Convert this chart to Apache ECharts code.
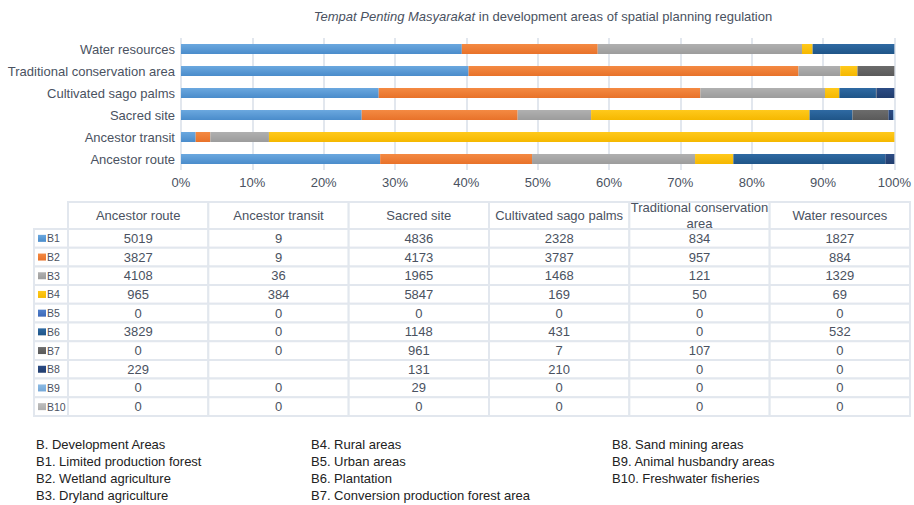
<!DOCTYPE html>
<html>
<head>
<meta charset="utf-8">
<script src="https://cdn.jsdelivr.net/npm/echarts@6/dist/echarts.min.js"></script>
<style>
html,body{margin:0;padding:0;background:#fff;}
#chart{width:914px;height:505px;}
</style>
</head>
<body>
<div id="chart"></div>
<script>
// Categories (bottom to top on the chart; left to right in the table)
const categories = ['Ancestor route','Ancestor transit','Sacred site','Cultivated sago palms','Traditional conservation area','Water resources'];
const tableHeaders = ['Ancestor route','Ancestor transit','Sacred site','Cultivated sago palms','Traditional conservation\narea','Water resources'];
const seriesNames = ['B1','B2','B3','B4','B5','B6','B7','B8','B9','B10'];
// values per development area, in category order
const B1  = [5019, 9, 4836, 2328, 834, 1827];
const B2  = [3827, 9, 4173, 3787, 957, 884];
const B3  = [4108, 36, 1965, 1468, 121, 1329];
const B4  = [965, 384, 5847, 169, 50, 69];
const B5  = [0, 0, 0, 0, 0, 0];
const B6  = [3829, 0, 1148, 431, 0, 532];
const B7  = [0, 0, 961, 7, 107, 0];
const B8  = [229, null, 131, 210, 0, 0];
const B9  = [0, 0, 29, 0, 0, 0];
const B10 = [0, 0, 0, 0, 0, 0];
const seriesValues = [B1,B2,B3,B4,B5,B6,B7,B8,B9,B10];
const tickLabels = ['0%','10%','20%','30%','40%','50%','60%','70%','80%','90%','100%'];
const notes = [
  ['B. Development Areas','B1. Limited production forest','B2. Wetland agriculture','B3. Dryland agriculture'],
  ['B4. Rural areas','B5. Urban areas','B6. Plantation','B7. Conversion production forest area'],
  ['B8. Sand mining areas','B9. Animal husbandry areas','B10. Freshwater fisheries']
];

const colorsTop = ['#6ba8df','#f48a43','#b0b0b0','#ffc91c','#5080cc','#2f6aa3','#6c6c6c','#2c4c85','#8dbbe4','#bdbdbd'];
const colorsBot = ['#4a8ccb','#e8722a','#9c9c9c','#f5b800','#3d68b8','#1f5588','#5a5a5a','#213d6e','#75a8d8','#adadad'];

const totals = categories.map((c,i)=>seriesValues.reduce((s,arr)=>s+(arr[i]||0),0));

const chart = echarts.init(document.getElementById('chart'), null, {renderer:'svg'});

const textColor = '#4a5261';
const lineColor = '#e2e7ee';
const font = '"Liberation Sans", Arial, Helvetica, sans-serif';

const series = seriesNames.map((name,k)=>({
  name: name,
  type: 'bar',
  stack: 'total',
  barWidth: 10,
  itemStyle: {
    color: new echarts.graphic.LinearGradient(0,0,0,1,[{offset:0,color:colorsTop[k]},{offset:1,color:colorsBot[k]}])
  },
  emphasis: {disabled:true},
  data: seriesValues[k].map((v,i)=> (v||0) / totals[i] * 100)
}));

// Table graphics
const graphics = [];
const tLeft = 34, firstColW = 34, colLeft = 68, tRight = 910;
const colW = (tRight - colLeft) / tableHeaders.length;
const headTop = 202, headH = 27, rowH = 18.7;
const border = {stroke: lineColor, lineWidth: 2, fill: '#fff'};
// header cells
tableHeaders.forEach((h,j)=>{
  graphics.push({type:'rect', shape:{x:colLeft+j*colW, y:headTop, width:colW, height:headH}, style:border, z:1});
  graphics.push({type:'text', x:colLeft+j*colW+colW/2, y:headTop+headH/2, z:2,
    style:{text:h, fill:textColor, font:'13px '+font, textAlign:'center', textVerticalAlign:'middle', lineHeight: 16}});
});
// rows
seriesNames.forEach((name,k)=>{
  const y = headTop + headH + k*rowH;
  graphics.push({type:'rect', shape:{x:tLeft, y:y, width:firstColW, height:rowH}, style:border, z:1});
  graphics.push({type:'rect', shape:{x:tLeft+4, y:y+rowH/2-3.5, width:8, height:7},
    style:{fill: new echarts.graphic.LinearGradient(0,0,0,1,[{offset:0,color:colorsTop[k]},{offset:1,color:colorsBot[k]}])}, z:2});
  graphics.push({type:'text', x:tLeft+13, y:y+rowH/2, z:2,
    style:{text:name, fill:textColor, font:'10.5px '+font, textAlign:'left', textVerticalAlign:'middle'}});
  seriesValues[k].forEach((v,j)=>{
    graphics.push({type:'rect', shape:{x:colLeft+j*colW, y:y, width:colW, height:rowH}, style:border, z:1});
    if (v !== null) {
      graphics.push({type:'text', x:colLeft+j*colW+colW/2, y:y+rowH/2, z:2,
        style:{text:String(v), fill:textColor, font:'13px '+font, textAlign:'center', textVerticalAlign:'middle'}});
    }
  });
});
// notes
const noteX = [36, 311, 612];
notes.forEach((col,c)=>{
  col.forEach((t,r)=>{
    graphics.push({type:'text', x:noteX[c], y:444 + r*17, z:2,
      style:{text:t, fill:'#222', font:'13px ' + font, textAlign:'left', textVerticalAlign:'middle'}});
  });
});

chart.setOption({
  animation: false,
  backgroundColor: '#fff',
  title: {
    text: '{i|Tempat Penting Masyarakat} in development areas of spatial planning regulation',
    left: 538, top: 5, textAlign: 'center',
    textStyle: {
      fontSize: 13, fontWeight: 'normal', color: textColor, fontFamily: font,
      rich: { i: {fontStyle:'italic', fontSize:13, color:textColor, fontFamily:font} }
    }
  },
  grid: {left:181, right:18, top:38, height:132, containLabel:false},
  xAxis: {
    type: 'value', min: 0, max: 100, interval: 10,
    axisLine: {show:false}, axisTick: {show:false},
    splitLine: {show:true, lineStyle:{color:lineColor, width:2}},
    axisLabel: {color:textColor, fontSize:13, fontFamily:font, margin:6,
      formatter: (v)=> tickLabels[Math.round(v/10)]}
  },
  yAxis: {
    type: 'category', data: categories,
    axisLine: {show:false}, axisTick: {show:false},
    axisLabel: {color:textColor, fontSize:13, fontFamily:font, margin:6}
  },
  series: series,
  graphic: graphics
});
</script>
</body>
</html>
